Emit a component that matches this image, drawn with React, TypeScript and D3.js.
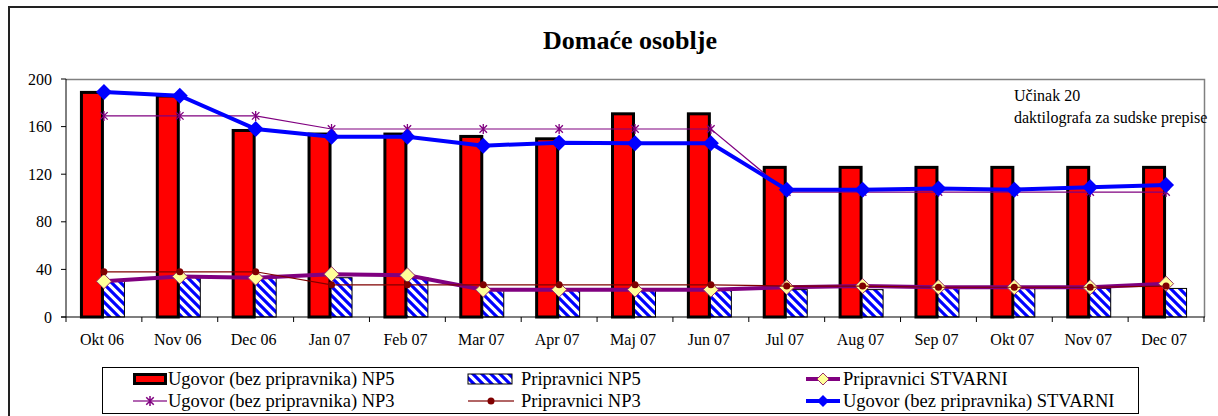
import React from "react";
import * as d3 from "d3";

const categories = ["Okt 06","Nov 06","Dec 06","Jan 07","Feb 07","Mar 07","Apr 07","Maj 07","Jun 07","Jul 07","Aug 07","Sep 07","Okt 07","Nov 07","Dec 07"];
const ugovorNP5 = [190,187,158,155,155,153,151,172,172,127,127,127,127,127,127];
const pripravniciNP5 = [30,34,33,33,33,23,23,23,23,23,23,24,24,24,24];
const pripravniciStvarni = [30,34,33,36,35,23,23,23,23,25,26,25,25,25,28];
const ugovorNP3 = [169,169,169,158,158,158,158,158,158,105,105,105,105,105,105];
const pripravniciNP3 = [38,38,38,27,27,27,27,27,27,26,26,25,25,25,26];
const ugovorStvarni = [189,186,158,151.5,151.5,144,146.5,146,146,107,107,108,107,109,111];
const yTicks = [0,40,80,120,160,200];
const title = "Domaće osoblje";
const noteLines = ["Učinak 20", "daktilografa za sudske prepise"];
const legendLabels = [
  "Ugovor (bez pripravnika) NP5",
  "Pripravnici NP5",
  "Pripravnici STVARNI",
  "Ugovor (bez pripravnika) NP3",
  "Pripravnici NP3",
  "Ugovor (bez pripravnika) STVARNI",
];

const W = 1218, H = 416;
const L = 66, R = 1204, T = 79, B = 317;
const FONT = "'Liberation Serif', 'Times New Roman', serif";

const diamond = (cx: number, cy: number, r: number) =>
  `M${cx},${cy - r}L${cx + r},${cy}L${cx},${cy + r}L${cx - r},${cy}Z`;
const asterisk = (cx: number, cy: number, r: number) => {
  const d = r * 0.75;
  return `M${cx},${cy - r}L${cx},${cy + r}M${cx - d},${cy - d}L${cx + d},${cy + d}M${cx - d},${cy + d}L${cx + d},${cy - d}`;
};

export default function App() {
  const x = d3.scaleBand<string>().domain(categories).range([L, R]).paddingInner(0).paddingOuter(0);
  const y = d3.scaleLinear().domain([0, 200]).range([B, T]);
  const cx = (i: number) => (x(categories[i]) as number) + x.bandwidth() / 2;
  const redW = 24;
  const hatchW = 21;
  const line = d3.line<number>().x((_, i) => cx(i)).y((v) => y(v));

  const boundaries = d3.range(categories.length + 1).map((i) => L + i * x.bandwidth());

  const colSym = [133, 468, 806];
  const colText = [168, 521, 843];
  const rowY = [379, 401];

  const legendSymbol = (k: number, sx: number, sy: number) => {
    const w = 34;
    switch (k) {
      case 0:
        return <rect x={sx + 1.5} y={sy - 4.5} width={w - 3} height={9} fill="#FF0000" stroke="#000" strokeWidth={3} />;
      case 1:
        return <rect x={sx} y={sy - 5} width={w + 10} height={10} fill="url(#hatch)" stroke="#000" strokeWidth={1} />;
      case 2:
        return (
          <g>
            <line x1={sx} x2={sx + w} y1={sy} y2={sy} stroke="#800080" strokeWidth={4} />
            <path d={diamond(sx + w / 2, sy, 6)} fill="#FFFF99" stroke="#993366" strokeWidth={1} />
          </g>
        );
      case 3:
        return (
          <g>
            <line x1={sx} x2={sx + w} y1={sy} y2={sy} stroke="#993399" strokeWidth={1.5} />
            <path d={asterisk(sx + w / 2, sy, 5)} stroke="#800080" strokeWidth={1.5} fill="none" />
          </g>
        );
      case 4:
        return (
          <g>
            <line x1={sx} x2={sx + w + 12} y1={sy} y2={sy} stroke="#993333" strokeWidth={1.5} />
            <circle cx={sx + (w + 12) / 2} cy={sy} r={3.5} fill="#800000" />
          </g>
        );
      default:
        return (
          <g>
            <line x1={sx} x2={sx + w} y1={sy} y2={sy} stroke="#0000FF" strokeWidth={4} />
            <path d={diamond(sx + w / 2, sy, 6)} fill="#0000FF" />
          </g>
        );
    }
  };

  return (
    <svg width={W} height={H} style={{ position: "absolute", left: 0, top: 0, display: "block" }} fontFamily={FONT}>
      <defs>
        <pattern id="hatch" patternUnits="userSpaceOnUse" width={9} height={9}>
          <rect width={9} height={9} fill="#fff" />
          <path d="M-2,-2L11,11M-2,7L2,11M7,-2L11,2" stroke="#0000FF" strokeWidth={3.2} />
        </pattern>
      </defs>
      <rect x={0} y={0} width={W} height={H} fill="#fff" />
      <rect x={9} y={7} width={W + 20} height={H + 20} fill="none" stroke="#222" strokeWidth={2} />

      <text x={630} y={49} textAnchor="middle" fontSize={26} fontWeight="bold">{title}</text>

      <path d={`M${L},${T + 0.5}H${R + 0.5}V${B}`} fill="none" stroke="#808080" strokeWidth={1.5} />

      {categories.map((c, i) => (
        <g key={c}>
          <rect x={cx(i) - redW + 1.5} y={y(ugovorNP5[i]) + 1.5} width={redW - 3} height={y(0) - y(ugovorNP5[i]) - 1.5}
            fill="#FF0000" stroke="#000" strokeWidth={3} />
          <rect x={cx(i) - 0.5} y={y(pripravniciNP5[i])} width={hatchW} height={y(0) - y(pripravniciNP5[i])}
            fill="url(#hatch)" stroke="#000" strokeWidth={1} />
        </g>
      ))}

      <line x1={L} x2={L} y1={T} y2={B} stroke="#000" strokeWidth={1} />
      <line x1={L - 5} x2={R + 1} y1={B} y2={B} stroke="#000" strokeWidth={1.2} />
      {yTicks.map((t) => (
        <g key={t}>
          <line x1={L - 5} x2={L} y1={y(t)} y2={y(t)} stroke="#000" />
          <text x={52} y={y(t) + 5.5} textAnchor="end" fontSize={16}>{t}</text>
        </g>
      ))}
      {boundaries.map((bx, i) => (
        <line key={i} x1={bx} x2={bx} y1={B} y2={B + 5} stroke="#000" />
      ))}
      {categories.map((c, i) => (
        <text key={c} x={cx(i) - 2} y={345} textAnchor="middle" fontSize={16}>{c}</text>
      ))}

      <path d={line(pripravniciStvarni) as string} fill="none" stroke="#800080" strokeWidth={4} />
      {pripravniciStvarni.map((v, i) => (
        <path key={i} d={diamond(cx(i), y(v), 7.5)} fill="#FFFF99" stroke="#993366" strokeWidth={1} />
      ))}
      <path d={line(ugovorNP3) as string} fill="none" stroke="#800080" strokeWidth={1.2} />
      {ugovorNP3.map((v, i) => (
        <path key={i} d={asterisk(cx(i), y(v), 5)} stroke="#800080" strokeWidth={1.3} fill="none" />
      ))}
      <path d={line(pripravniciNP3) as string} fill="none" stroke="#800000" strokeWidth={1.2} />
      {pripravniciNP3.map((v, i) => (
        <circle key={i} cx={cx(i)} cy={y(v)} r={3.5} fill="#800000" />
      ))}
      <path d={line(ugovorStvarni) as string} fill="none" stroke="#0000FF" strokeWidth={4} />
      {ugovorStvarni.map((v, i) => (
        <path key={i} d={diamond(cx(i), y(v), 8)} fill="#0000FF" />
      ))}

      <text x={1014} y={101} fontSize={16}>{noteLines[0]}</text>
      <text x={1014} y={123} fontSize={16}>{noteLines[1]}</text>

      <rect x={102.5} y={367.5} width={1036} height={46} fill="#fff" stroke="#000" strokeWidth={1} />
      {legendLabels.map((lab, k) => {
        const col = k % 3, row = Math.floor(k / 3);
        return (
          <g key={lab}>
            {legendSymbol(k, colSym[col], rowY[row])}
            <text x={colText[col]} y={rowY[row] + 5.5} fontSize={18.5}>{lab}</text>
          </g>
        );
      })}
    </svg>
  );
}
